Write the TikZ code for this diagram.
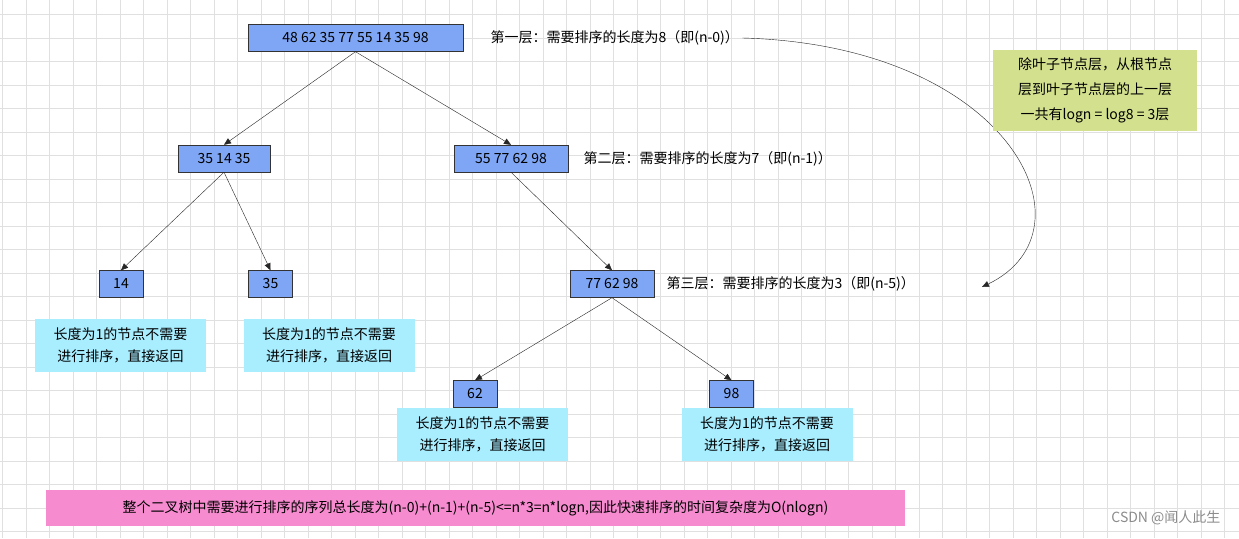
\documentclass[tikz,border=0pt]{standalone}
\usepackage{fontspec}
\setmainfont{Noto Sans CJK SC}
\usetikzlibrary{arrows.meta}
\definecolor{nodeblue}{HTML}{7EA6F4}
\definecolor{cyanbox}{HTML}{A8EEFF}
\definecolor{greenbox}{HTML}{D3E08E}
\definecolor{pinkbox}{HTML}{F78BD0}
\tikzset{
 num/.style={draw=black!80,fill=nodeblue,minimum height=27pt,inner xsep=8pt,font=\fontsize{14}{16}\selectfont},
 note/.style={fill=cyanbox,minimum width=171pt,minimum height=53pt,align=center,font=\fontsize{14}{22}\selectfont},
 lbl/.style={anchor=west,font=\fontsize{14}{16}\selectfont},
 edge/.style={draw=black!85,-{Triangle[length=7pt,width=6pt]}}
}
\begin{document}
\begin{tikzpicture}[x=1pt,y=-1pt]
\useasboundingbox (0,0) rectangle (1239,538);
\fill[white] (0,0) rectangle (1239,538);
\foreach \i in {0,...,53} {\draw[black!12,line width=0.8pt] ({2.5+23.5*\i},0) -- ({2.5+23.5*\i},538);}
\foreach \j in {0,...,23} {\draw[black!12,line width=0.8pt] (0,{14.5+23.5*\j}) -- (1239,{14.5+23.5*\j});}
\node[num,minimum width=215pt] (root) at (355.5,38) {48 62 35 77 55 14 35 98};
\node[num,minimum width=92pt] (l1) at (224,158.5) {35 14 35};
\node[num,minimum width=114pt] (r1) at (511,158.5) {55 77 62 98};
\node[num,minimum width=44pt] (a) at (121,284) {14};
\node[num,minimum width=44pt] (b) at (270.5,284) {35};
\node[num,minimum width=84pt] (r2) at (612,284) {77 62 98};
\node[num,minimum width=44pt] (c) at (475,394) {62};
\node[num,minimum width=44pt] (d) at (731.5,394) {98};
\draw[edge] (root.south) -- (l1.north);
\draw[edge] (root.south) -- (r1.north);
\draw[edge] (l1.south) -- (a.north);
\draw[edge] (l1.south) -- (b.north);
\draw[edge] (r1.south) -- (r2.north);
\draw[edge] (r2.south) -- (c.north);
\draw[edge] (r2.south) -- (d.north);
\node[note] (na) at (120.5,345) {长度为1的节点不需要\\进行排序，直接返回};
\node[note] (nb) at (329,345) {长度为1的节点不需要\\进行排序，直接返回};
\node[note] (nc) at (482.5,434) {长度为1的节点不需要\\进行排序，直接返回};
\node[note] (nd) at (767,434) {长度为1的节点不需要\\进行排序，直接返回};
\node[lbl] (t1) at (487,38) {第一层：需要排序的长度为8（即(n-0)）};
\node[lbl] (t2) at (580,158.5) {第二层：需要排序的长度为7（即(n-1)）};
\node[lbl] (t3) at (663,284) {第三层：需要排序的长度为3（即(n-5)）};
\coordinate (tip) at (982,287);
\draw[edge] (t1.east) .. controls (1010,45) and (1100,230) .. (tip);
\node[fill=greenbox,minimum width=204pt,minimum height=81pt,align=center,font=\fontsize{14}{25}\selectfont] (g) at (1095,90.5) {除叶子节点层，从根节点\\层到叶子节点层的上一层\\一共有logn = log8 = 3层};
\node[fill=pinkbox,minimum width=859pt,minimum height=36pt,font=\fontsize{14}{16}\selectfont] (p) at (475.5,508) {整个二叉树中需要进行排序的序列总长度为(n-0)+(n-1)+(n-5)<=n*3=n*logn,因此快速排序的时间复杂度为O(nlogn)};
\node[anchor=east,text=black!45,font=\fontsize{14}{16}\selectfont] (w) at (1224,518) {CSDN @闻人此生};
\end{tikzpicture}
\end{document}
